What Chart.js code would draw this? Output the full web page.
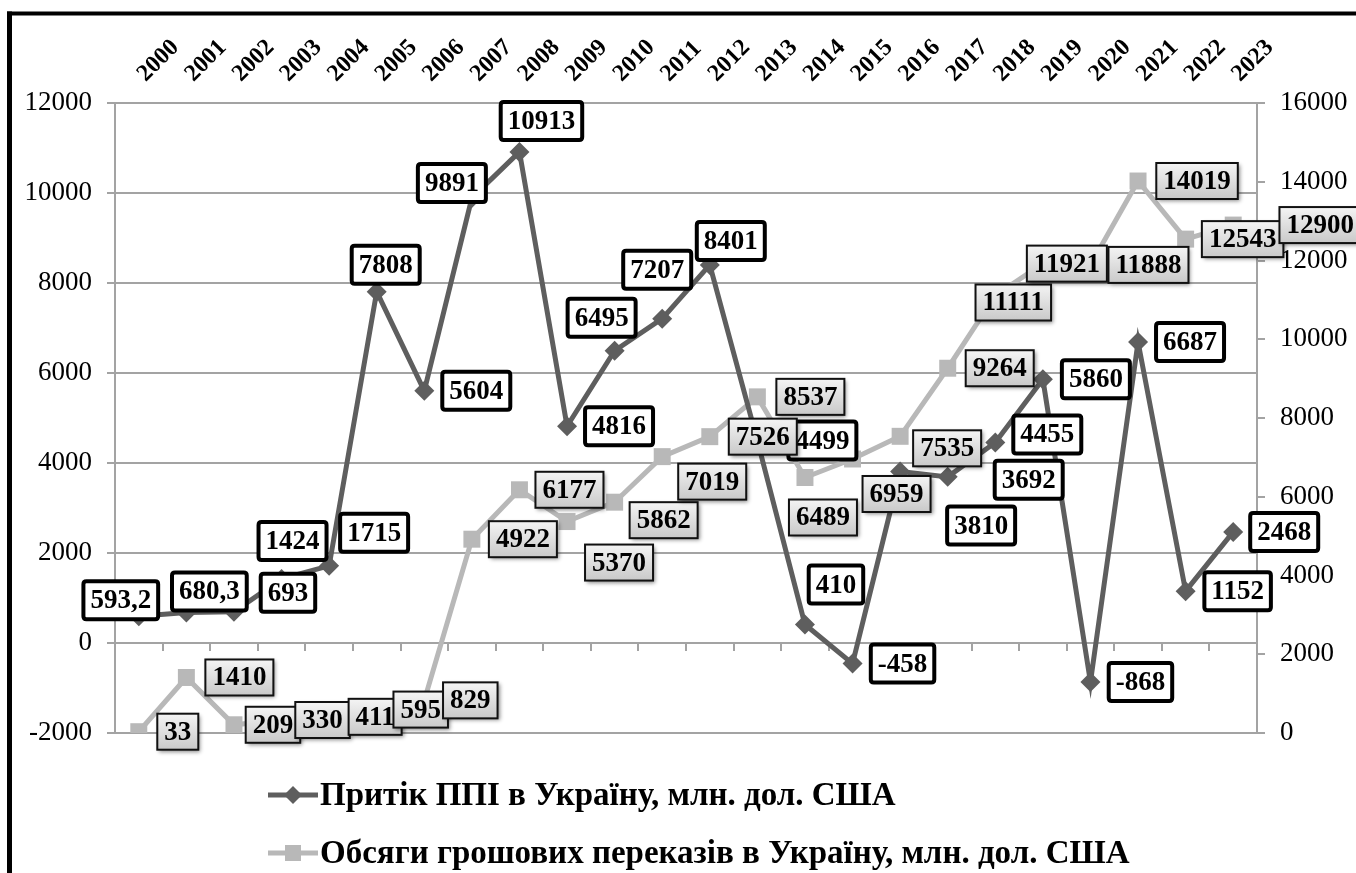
<!DOCTYPE html>
<html><head><meta charset="utf-8">
<script src="https://cdn.jsdelivr.net/npm/chart.js@4.4.1/dist/chart.umd.min.js"></script>
<style>html,body{margin:0;padding:0;background:#fff;overflow:hidden}canvas{display:block}</style>
</head><body>
<canvas id="c" width="1356" height="873"></canvas>
<script>
const years = ['2000','2001','2002','2003','2004','2005','2006','2007','2008','2009','2010','2011','2012','2013','2014','2015','2016','2017','2018','2019','2020','2021','2022','2023'];
const fdiInflow = [593.2, 680.3, 693, 1424, 1715, 7808, 5604, 9891, 10913, 4816, 6495, 7207, 8401, 4499, 410, -458, 3810, 3692, 4455, 5860, -868, 6687, 1152, 2468];
const remittances = [33, 1410, 209, 330, 411, 595, 829, 4922, 6177, 5370, 5862, 7019, 7526, 8537, 6489, 6959, 7535, 9264, 11111, 11921, 11888, 14019, 12543, 12900];
const leftAxis = {min: -2000, max: 12000, step: 2000};
const rightAxis = {min: 0, max: 16000, step: 2000};
const seriesNames = ['Притік ППІ в Україну, млн. дол. США', 'Обсяги грошових переказів в Україну, млн. дол. США'];

const FONT = '"Liberation Serif", "Times New Roman", serif';
const FDI_COLOR = '#5e5e5e';
const REM_COLOR = '#b8b8b8';
const GRID = '#a3a3a3';

function fmt(v){ return String(v).replace('.', ','); }

const framePlugin = {
  id: 'frame',
  beforeDraw(chart){
    const c = chart.ctx; c.save(); c.fillStyle = '#fff'; c.fillRect(0,0,chart.width,chart.height); c.restore();
  },
  afterDraw(chart){
    const c = chart.ctx; c.save(); c.fillStyle = '#000';
    c.fillRect(7, 11.5, chart.width - 7, 4);
    c.fillRect(7, 11.5, 5, chart.height - 11.5);
    c.restore();
  }
};

const axisTicksPlugin = {
  id: 'zeroTicks',
  beforeDatasetsDraw(chart){
    const yl = chart.scales.yL, c = chart.ctx;
    const y0 = yl.getPixelForValue(0);
    const n = chart.data.labels.length;
    const step = (chart.chartArea.right - chart.chartArea.left) / n;
    c.save(); c.strokeStyle = GRID; c.lineWidth = 2;
    c.beginPath();
    for (let k = 1; k < n; k++){
      const px = Math.round(chart.chartArea.left + k*step);
      c.moveTo(px, y0); c.lineTo(px, y0 + 8);
    }
    c.stroke(); c.restore();
  }
};

function rr(c, x, y, w, h, r){
  c.beginPath();
  c.moveTo(x+r, y); c.lineTo(x+w-r, y); c.quadraticCurveTo(x+w, y, x+w, y+r);
  c.lineTo(x+w, y+h-r); c.quadraticCurveTo(x+w, y+h, x+w-r, y+h);
  c.lineTo(x+r, y+h); c.quadraticCurveTo(x, y+h, x, y+h-r);
  c.lineTo(x, y+r); c.quadraticCurveTo(x, y, x+r, y);
  c.closePath();
}

const boxLabelsPlugin = {
  id: 'boxLabels',
  afterDatasetsDraw(chart, args, opts){
    const c = chart.ctx;
    c.save();
    c.font = 'bold 27px ' + FONT;
    c.textAlign = 'center'; c.textBaseline = 'middle';
    opts.sets.forEach(set => {
      const meta = chart.getDatasetMeta(set.index);
      const vals = chart.data.datasets[set.index].data;
      meta.data.forEach((pt, i) => {
        const sh = set.shifts[i];
        const cx = pt.x + sh[0], cy = pt.y + sh[1];
        const text = fmt(vals[i]);
        const tw = c.measureText(text).width;
        const w = tw + 14, h = set.h;
        const x0 = cx - w/2, y0 = cy - h/2;
        if (set.style === 'white'){
          rr(c, x0, y0, w, h, 3);
          c.fillStyle = '#fff'; c.fill();
          c.lineWidth = 4; c.strokeStyle = '#000'; c.stroke();
        } else {
          c.save();
          c.shadowColor = 'rgba(0,0,0,0.45)'; c.shadowBlur = 4; c.shadowOffsetX = 2; c.shadowOffsetY = 2;
          const g = c.createLinearGradient(0, y0, 0, y0 + h);
          g.addColorStop(0, '#f4f4f4'); g.addColorStop(1, '#c9c9c9');
          c.fillStyle = g;
          c.fillRect(x0, y0, w, h);
          c.restore();
          c.lineWidth = 2; c.strokeStyle = '#111';
          c.strokeRect(x0, y0, w, h);
        }
        c.fillStyle = '#000';
        c.fillText(text, cx, cy + 1);
      });
    });
    c.restore();
  }
};

const legendPlugin = {
  id: 'customLegend',
  afterDraw(chart, args, opts){
    const c = chart.ctx;
    c.save();
    c.font = 'bold 33px ' + FONT;
    c.textAlign = 'left'; c.textBaseline = 'middle';
    chart.data.datasets.forEach((ds, i) => {
      const y = opts.rows[i];
      c.strokeStyle = ds.borderColor; c.lineWidth = 5;
      c.beginPath(); c.moveTo(opts.x, y); c.lineTo(opts.x + 50, y); c.stroke();
      c.fillStyle = ds.backgroundColor;
      const mx = opts.x + 25;
      c.beginPath();
      if (ds.pointStyle === 'rectRot'){
        const r = 9;
        c.moveTo(mx, y - r); c.lineTo(mx + r, y); c.lineTo(mx, y + r); c.lineTo(mx - r, y); c.closePath();
      } else {
        c.rect(mx - 8, y - 8, 16, 16);
      }
      c.fill();
      c.fillStyle = '#000';
      c.fillText(ds.label, opts.x + 52, y + 1);
    });
    c.restore();
  }
};

new Chart(document.getElementById('c'), {
  type: 'line',
  data: {
    labels: years,
    datasets: [
      {label: seriesNames[0], data: fdiInflow, yAxisID: 'yL', borderColor: FDI_COLOR, backgroundColor: FDI_COLOR,
       borderWidth: 5, pointStyle: 'rectRot', pointRadius: 10, pointBorderWidth: 0, tension: 0},
      {label: seriesNames[1], data: remittances, yAxisID: 'yR', borderColor: REM_COLOR, backgroundColor: REM_COLOR,
       borderWidth: 5, pointStyle: 'rect', pointRadius: 12, pointBorderWidth: 0, tension: 0}
    ]
  },
  options: {
    responsive: false, animation: false, devicePixelRatio: 1,
    layout: {padding: {left: 0, right: 0, top: 0, bottom: 140}},
    plugins: {
      legend: {display: false}, tooltip: {enabled: false},
      customLegend: {x: 268, rows: [795, 853]},
      boxLabels: {sets: [
        {index: 0, style: 'white', h: 38, shifts: [[-18,-16],[23,-21],[54,-19],[11,-38],[45,-33],[9,-27],[52,0],[-20,-15],[22,-31],[52,0],[-13,-33],[-5,-49],[21,-24],[65,0],[31,-40],[50,0],[81,54],[81,3],[52,-8],[53,0],[50,0],[52,0],[52,0],[51,0]]},
        {index: 1, style: 'gray', h: 36, shifts: [[39,0],[53,0],[39,0],[41,0],[46,0],[44,0],[46,0],[51,0],[50,0],[52,41],[49,18],[50,25],[53,0],[53,0],[18,40],[44,35],[47,12],[52,0],[18,7],[24,0],[58,0],[59,0],[57,0],[87,0]]}
      ]}
    },
    scales: {
      x: {
        position: 'top', offset: true,
        grid: {display: false, drawTicks: false},
        border: {display: false},
        ticks: {autoSkip: false, minRotation: 45, maxRotation: 45, padding: 15, labelOffset: 23, color: '#000', font: {family: FONT, size: 24, weight: 'bold'}},
        afterFit(s){ s.height = 103; }
      },
      yL: {
        position: 'left', min: leftAxis.min, max: leftAxis.max,
        grid: {color: GRID, lineWidth: 2, tickLength: 8, tickColor: GRID},
        border: {display: true, color: GRID, width: 2},
        ticks: {stepSize: leftAxis.step, padding: 15, color: '#000', font: {family: FONT, size: 27}, callback: v => String(v)},
        afterFit(s){ s.width = 115; }
      },
      yR: {
        position: 'right', min: rightAxis.min, max: rightAxis.max,
        grid: {drawOnChartArea: false, color: GRID, lineWidth: 2, tickLength: 8, tickColor: GRID},
        border: {display: true, color: GRID, width: 2},
        ticks: {stepSize: rightAxis.step, padding: 15, color: '#000', font: {family: FONT, size: 27}, callback: v => String(v)},
        afterFit(s){ s.width = 99; }
      }
    }
  },
  plugins: [framePlugin, axisTicksPlugin, boxLabelsPlugin, legendPlugin]
});
</script>
</body></html>
